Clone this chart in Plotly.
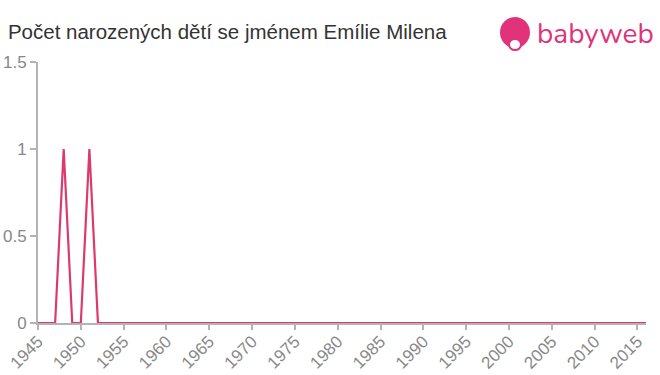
import plotly.graph_objects as go

years = list(range(1945, 2017))
counts = [0] * len(years)
for y in (1948, 1951):
    counts[years.index(y)] = 1

tick_years = list(range(1945, 2020, 5))
title_text = "Počet narozených dětí se jménem Emílie Milena"
line_color = "#dc3a6d"
axis_color = "#b3b3b3"
label_color = "#888888"

fig = go.Figure()
fig.add_trace(go.Scatter(x=years, y=counts, mode="lines",
                         line=dict(color=line_color, width=2.2), hoverinfo="skip"))

fig.update_layout(
    width=660, height=375,
    margin=dict(l=38, r=14, t=62, b=52, autoexpand=False),
    paper_bgcolor="white", plot_bgcolor="white",
    showlegend=False,
    font=dict(family="Liberation Sans, Arial, sans-serif", color=label_color),
    title=dict(text=title_text, x=0.012, xanchor="left", y=0.915, yanchor="middle",
               font=dict(size=20.5, color="#333333")),
    xaxis=dict(range=[1945, 2016], tickvals=tick_years, ticktext=[str(t) for t in tick_years],
               tickangle=-45, showgrid=False, zeroline=False, showline=True, automargin=False,
               linecolor=axis_color, linewidth=2, ticks="outside", tickcolor=axis_color,
               ticklen=5, tickwidth=1.5, ticklabelstandoff=-5,
               tickfont=dict(size=17, color=label_color)),
    yaxis=dict(range=[0, 1.5], tickvals=[0, 0.5, 1, 1.5], ticktext=["0", "0.5", "1", "1.5"],
               showgrid=False, zeroline=False, showline=True, linecolor=axis_color, automargin=False,
               linewidth=2, ticks="outside", tickcolor=axis_color, ticklen=6, tickwidth=1.5,
               tickfont=dict(size=17, color=label_color)),
)

# logo
fig.add_shape(type="circle", xref="paper", yref="paper",
              x0=(500 - 38) / 608, x1=(530 - 38) / 608,
              y0=(323 - 48) / 261, y1=(323 - 17) / 261,
              fillcolor="#e0337a", line=dict(width=0))
fig.add_shape(type="circle", xref="paper", yref="paper",
              x0=(509 - 38) / 608, x1=(521 - 38) / 608,
              y0=(323 - 50) / 261, y1=(323 - 39) / 261,
              fillcolor="white", line=dict(color="#e0337a", width=2))
fig.add_annotation(xref="paper", yref="paper", x=(535 - 38) / 608, y=(323 - 34) / 261,
                   xanchor="left", yanchor="middle", showarrow=False,
                   text="babyweb", font=dict(size=28, color="#e0337a",
                                             family="Nunito, Lato, sans-serif"))

fig.write_html("out.html")
